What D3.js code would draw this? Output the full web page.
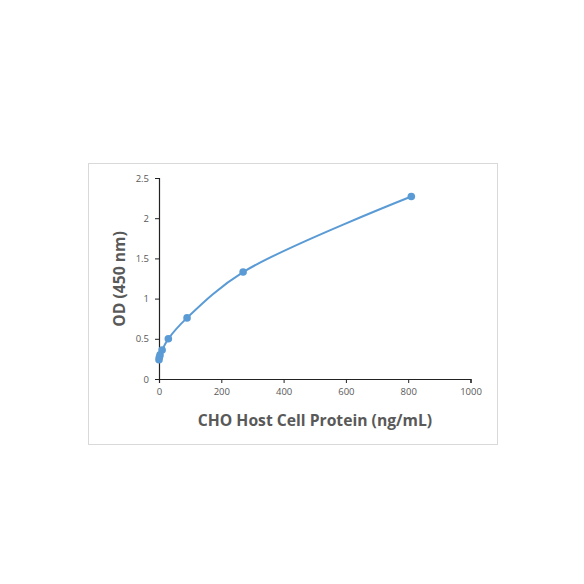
<!DOCTYPE html>
<html>
  <head>
    <script src="https://d3js.org/d3.v7.min.js"></script>
    <style>
      body { margin: 0; background: #fff; }
      .tick text { fill: #595959; font-family: "Open Sans", sans-serif; font-size: 9.5px; }
      .title { fill: #595959; font-family: "Open Sans", sans-serif; font-weight: bold; font-size: 15.7px; }
    </style>
  </head>
  <body>
    <svg width="584" height="584"></svg>
    <script>
      var conc = [0, 1.11, 3.33, 10, 30, 90, 270, 810];
      var od = [0.24, 0.27, 0.30, 0.36, 0.50, 0.76, 1.33, 2.27];
      var xTicks = [0, 200, 400, 600, 800, 1000];
      var yTicks = [0, 0.5, 1, 1.5, 2, 2.5];

      var svg = d3.select("svg");
      var color = "#5B9BD5";

      // chart frame
      svg.append("rect")
        .attr("x", 88.5).attr("y", 163.5)
        .attr("width", 409).attr("height", 281)
        .attr("fill", "#fff")
        .attr("stroke", "#d9d9d9");

      var x = d3.scaleLinear().domain([0, 1000]).range([159, 470.5]);
      var y = d3.scaleLinear().domain([0, 2.5]).range([379, 178]);

      svg.append("g")
        .attr("transform", "translate(0,379)")
        .call(d3.axisBottom(x).tickValues(xTicks).tickSize(4).tickPadding(5).tickFormat(d3.format("d")))
        .call(g => g.selectAll("line, path").attr("stroke", "#222"));

      svg.append("g")
        .attr("transform", "translate(159,0)")
        .call(d3.axisLeft(y).tickValues(yTicks).tickSize(4).tickPadding(6).tickFormat(d => d))
        .call(g => g.selectAll("line, path").attr("stroke", "#222"));

      svg.selectAll(".domain").attr("stroke-width", 1.2);

      var pts = conc.map((c, i) => [c, od[i]]);

      svg.append("path")
        .datum(pts)
        .attr("fill", "none")
        .attr("stroke", color)
        .attr("stroke-width", 2)
        .attr("d", d3.line().x(d => x(d[0])).y(d => y(d[1])).curve(d3.curveCatmullRom.alpha(0.5)));

      svg.selectAll("circle.pt")
        .data(pts)
        .enter()
        .append("circle")
          .attr("class", "pt")
          .attr("cx", d => x(d[0]))
          .attr("cy", d => y(d[1]))
          .attr("r", 3.8)
          .attr("fill", color);

      svg.append("text")
        .attr("class", "title")
        .attr("x", 315).attr("y", 426)
        .attr("text-anchor", "middle")
        .text("CHO Host Cell Protein (ng/mL)");

      svg.append("text")
        .attr("class", "title")
        .attr("transform", "translate(125,279) rotate(-90)")
        .attr("text-anchor", "middle")
        .text("OD (450 nm)");
    </script>
  </body>
</html>
